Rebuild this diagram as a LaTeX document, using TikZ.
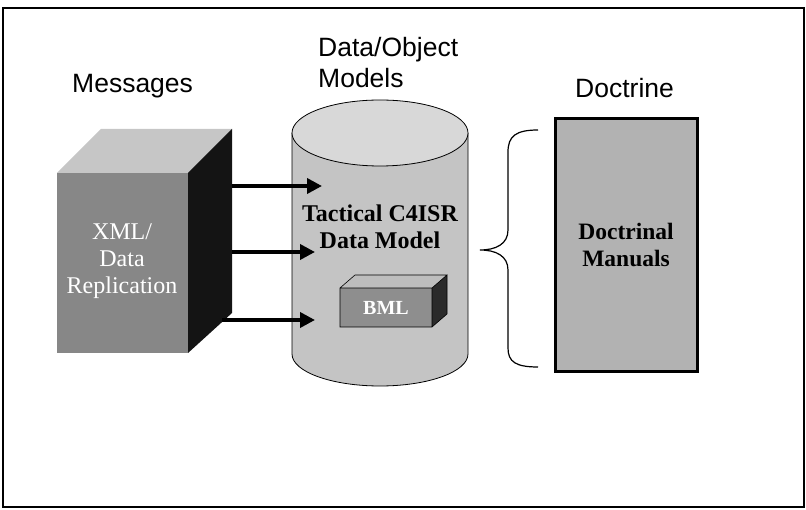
\documentclass[tikz,border=0pt]{standalone}
\usepackage{fontspec}
\setmainfont{Liberation Serif}
\newfontfamily\labelfont{Liberation Sans}
\usetikzlibrary{arrows.meta}
\definecolor{cubefront}{HTML}{878787}
\definecolor{cubetop}{HTML}{C6C6C6}
\definecolor{cuberight}{HTML}{141414}
\definecolor{cylbody}{HTML}{C4C4C4}
\definecolor{cyltop}{HTML}{D8D8D8}
\definecolor{bmlfront}{HTML}{8E8E8E}
\definecolor{bmltop}{HTML}{BDBDBD}
\definecolor{bmlright}{HTML}{2A2A2A}
\definecolor{docfill}{HTML}{B2B2B2}
\tikzset{
  heading/.style={font=\labelfont\fontsize{26.5}{31}\selectfont, anchor=base west, inner sep=0pt, align=left},
  innertext/.style={font=\fontsize{24}{27}\selectfont, align=center, inner sep=0pt},
  feedarrow/.style={line width=3.6pt, -{Triangle[length=15pt,width=15pt]}},
  outline/.style={draw=black, line width=0.8pt}
}
\begin{document}
\begin{tikzpicture}[x=1pt,y=-1pt]
\useasboundingbox (0,0) rectangle (806,510);
% frame
\draw[line width=1.6pt] (3,8) rectangle (804,507);

% headings
\node[heading] (msg) at (72,93) {Messages};
\node[heading] (dom) at (318,88) {Data/Object\\Models};
\node[heading] (doc) at (575,98) {Doctrine};

% Messages cube
\fill[cubefront] (57,173) rectangle (188,353);
\fill[cubetop] (57,173) -- (101,129) -- (232,129) -- (188,173) -- cycle;
\fill[cuberight] (188,173) -- (232,129) -- (232,313) -- (188,353) -- cycle;
\node[innertext, text=white] (xml) at (122,261) {XML/\\Data\\Replication};

% cylinder
\fill[cylbody] (292,133) -- (292,354) arc[start angle=180, end angle=0, x radius=88, y radius=32] -- (468,133) -- cycle;
\draw[outline] (292,133) -- (292,354) arc[start angle=180, end angle=0, x radius=88, y radius=32] -- (468,133);
\filldraw[fill=cyltop, outline] (380,133) ellipse[x radius=88, y radius=33];
\node[innertext, font=\bfseries\fontsize{24}{27}\selectfont] (tac) at (380,227) {Tactical C4ISR\\Data Model};

% BML box
\fill[bmlfront] (340,288) rectangle (432,327);
\fill[bmltop] (340,288) -- (355,275) -- (447,275) -- (432,288) -- cycle;
\fill[bmlright] (432,288) -- (447,275) -- (447,314) -- (432,327) -- cycle;
\draw[line width=0.6pt] (340,288) rectangle (432,327) (340,288) -- (355,275) -- (447,275) -- (432,288) (447,275) -- (447,314) -- (432,327);
\node[font=\bfseries\fontsize{20}{22}\selectfont, text=white, inner sep=0pt] (bml) at (386,308) {BML};

% arrows
\coordinate (s1) at (232,186); \coordinate (e1) at (322,186);
\coordinate (s2) at (232,252); \coordinate (e2) at (315,252);
\coordinate (s3) at (222,320); \coordinate (e3) at (315,320);
\draw[feedarrow] (s1) -- (e1);
\draw[feedarrow] (s2) -- (e2);
\draw[feedarrow] (s3) -- (e3);

% brace
\draw[line width=1.2pt] (538,130) .. controls (516,130) and (508,136) .. (508,152) -- (508,230)
  .. controls (508,244) and (496,250) .. (480,250)
  .. controls (496,250) and (508,256) .. (508,270) -- (508,348)
  .. controls (508,362) and (516,367) .. (538,367);

% doctrine box
\node[draw=black, line width=3pt, fill=docfill, minimum width=142pt, minimum height=253pt, inner sep=0pt] (docbox) at (626,245.5) {};
\node[innertext, font=\bfseries\fontsize{23.5}{27}\selectfont] (docman) at (626,245) {Doctrinal\\Manuals};
\end{tikzpicture}
\end{document}
